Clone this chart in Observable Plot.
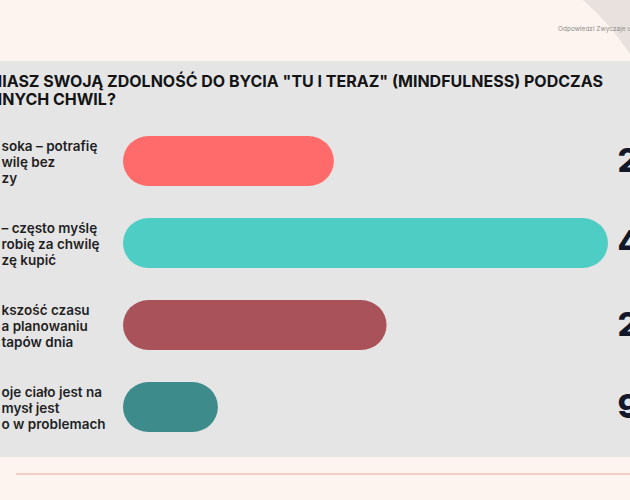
<!DOCTYPE html>
<html><head><meta charset="utf-8">
<script src="https://cdn.jsdelivr.net/npm/d3@7"></script>
<script src="https://cdn.jsdelivr.net/npm/@observablehq/plot@0.6"></script>
<style>
html,body{margin:0;padding:0;}
body{width:630px;height:500px;overflow:hidden;position:relative;background:#FEF4EF;font-family:Inter,sans-serif;}
#corner{position:absolute;left:0;top:0;width:630px;height:62px;background:#E8E1DE;clip-path:polygon(583px 0,630px 0,630px 54px,614px 32px,598px 14px);}
#source{position:absolute;left:558px;top:25px;font-size:6.5px;color:#8c8c8c;white-space:nowrap;}
#panel{position:absolute;left:0;top:61px;width:630px;height:396px;background:#E5E5E5;}
#title{position:absolute;left:-10px;top:72px;font-weight:700;font-size:16px;line-height:18px;color:#141414;white-space:nowrap;}
#rule{position:absolute;left:16px;top:473px;width:614px;height:2px;background:#F6CEC3;}
#chart{position:absolute;left:0;top:120px;}
</style></head><body>
<div id="corner"></div>
<div id="source"></div>
<div id="panel"></div>
<div id="title"></div>
<div id="rule"></div>
<div id="chart"></div>
<script>
// Data (visible portion of the reference slide)
const titleLines = ["NIASZ SWOJĄ ZDOLNOŚĆ DO BYCIA \"TU I TERAZ\" (MINDFULNESS) PODCZAS", "NNYCH CHWIL?"];
const sourceText = "Odpowiedzi Zwyczaje u";
const answers = [
  "soka – potrafię\nwilę bez\nzy",
  "– często myślę\nrobię za chwilę\nzę kupić",
  "kszość czasu\na planowaniu\ntapów dnia",
  "oje ciało jest na\nmysł jest\no w problemach"
];
const shares = [20, 46, 25, 9];
const shareLabels = ["20%", "46%", "25%", "9%"];
const barColors = ["#FF6B6B", "#4ECDC4", "#A9525A", "#3D8C8B"];

document.getElementById("source").textContent = sourceText;
const t = document.getElementById("title");
titleLines.forEach(l => { const d = document.createElement("div"); d.textContent = l; t.appendChild(d); });

const data = answers.map((a, i) => ({answer: a, share: shares[i], label: shareLabels[i]}));

const chart = Plot.plot({
  width: 630, height: 340,
  marginLeft: 123, marginRight: 22, marginTop: 6, marginBottom: 18,
  x: {domain: [0, 46], axis: null},
  y: {domain: answers, axis: null, paddingInner: 0.386, paddingOuter: 0.1},
  color: {domain: answers, range: barColors},
  style: {background: "transparent", fontFamily: "Inter, sans-serif", overflow: "visible"},
  marks: [
    Plot.barX(data, {x: "share", y: "answer", fill: "answer", rx: 25.5}),
    Plot.text(data, {y: "answer", text: "answer", frameAnchor: "left", dx: -122, textAnchor: "start",
      lineAnchor: "middle", lineHeight: 1.19, fontSize: 13.5, fontWeight: 600, fill: "#1f1f24"}),
    Plot.text(data, {y: "answer", text: "label", frameAnchor: "right", dx: 9, textAnchor: "start",
      lineAnchor: "middle", fontSize: 33, fontWeight: 800, fill: "#121829"})
  ]
});
document.getElementById("chart").appendChild(chart);
</script>
</body></html>
